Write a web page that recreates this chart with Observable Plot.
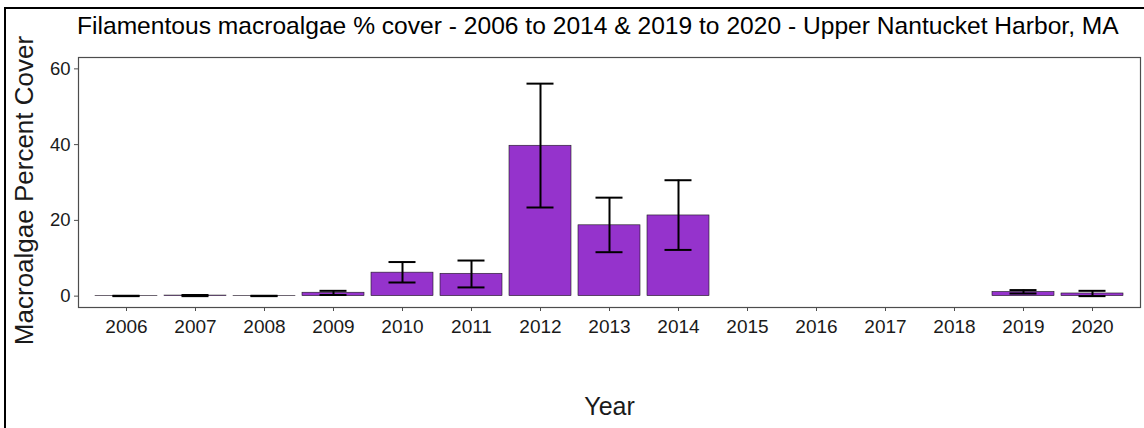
<!DOCTYPE html>
<html>
<head>
<meta charset="utf-8">
<script src="https://cdn.jsdelivr.net/npm/d3@7"></script>
<script src="https://cdn.jsdelivr.net/npm/@observablehq/plot@0.6"></script>
<style>
  html, body { margin: 0; padding: 0; background: #fff; }
  #wrap { position: relative; width: 1144px; height: 428px; overflow: hidden; font-family: "Liberation Sans", Arial, Helvetica, sans-serif; }
  #bl { position: absolute; left: 4px; top: 7px; width: 2px; height: 421px; background: #000; }
  #bt { position: absolute; left: 4px; top: 7px; width: 1140px; height: 2px; background: #000; }
  #title { position: absolute; left: 77px; top: 12px; font-size: 24.6px; color: #000; white-space: nowrap; }
  #chart { position: absolute; left: 0; top: 0; }
</style>
</head>
<body>
<div id="wrap">
  <div id="chart"></div>
  <div id="bl"></div>
  <div id="bt"></div>
  <div id="title">Filamentous macroalgae % cover - 2006 to 2014 &amp; 2019 to 2020 - Upper Nantucket Harbor, MA</div>
</div>
<script>
// Tick labels (x axis categories)
const allYears = ["2006","2007","2008","2009","2010","2011","2012","2013","2014","2015","2016","2017","2018","2019","2020"];
// Years with data
const years = ["2006","2007","2008","2009","2010","2011","2012","2013","2014","2019","2020"];
// Mean percent cover
const meanCover = [0.05, 0.15, 0.05, 0.9, 6.2, 5.9, 39.7, 18.7, 21.3, 1.1, 0.7];
// Error bar bounds
const lowerErr = [0.0, 0.0, 0.0, 0.3, 3.6, 2.3, 23.4, 11.6, 12.2, 0.7, 0.0];
const upperErr = [0.1, 0.3, 0.1, 1.4, 9.0, 9.4, 56.1, 26.0, 30.6, 1.6, 1.4];
const yTicks = [0, 20, 40, 60];

const data = years.map((y, i) => ({year: y, mean: meanCover[i], lo: lowerErr[i], hi: upperErr[i]}));

const chart = Plot.plot({
  width: 1144,
  height: 428,
  marginLeft: 78,
  marginRight: 4,
  marginTop: 57,
  marginBottom: 121,
  style: {background: "transparent", fontFamily: "'Liberation Sans', Arial, Helvetica, sans-serif", color: "#1a1a1a"},
  x: {type: "band", domain: allYears, paddingInner: 0.1, paddingOuter: 0.15},
  y: {domain: [-3, 63]},
  marks: [
    Plot.barY(data, {x: "year", y: "mean", fill: "#9533CC", stroke: "#1a1a1a", strokeWidth: 0.6}),
    Plot.ruleX(data, {x: "year", y1: "lo", y2: "hi", stroke: "#000", strokeWidth: 2}),
    Plot.tickY(data, {x: "year", y: "hi", stroke: "#000", strokeWidth: 2, insetLeft: 17.5, insetRight: 17.5}),
    Plot.tickY(data, {x: "year", y: "lo", stroke: "#000", strokeWidth: 2, insetLeft: 17.5, insetRight: 17.5}),
    Plot.frame({stroke: "#4d4d4d", strokeWidth: 1.2}),
    Plot.axisX({ticks: allYears, tickSize: 4, tickPadding: 8, fontSize: 19, stroke: "#4d4d4d",
      label: "Year", labelAnchor: "center", labelArrow: "none", labelOffset: 107}),
    Plot.axisY({ticks: yTicks, tickSize: 4, tickPadding: 4, fontSize: 18.5, stroke: "#4d4d4d",
      label: "Macroalgae Percent Cover", labelAnchor: "center", labelArrow: "none", labelOffset: 64})
  ]
});
// Enlarge axis title fonts
chart.querySelectorAll("g[aria-label='x-axis label'] text").forEach(t => t.setAttribute("font-size", "25px"));
chart.querySelectorAll("g[aria-label='y-axis label'] text").forEach(t => { t.setAttribute("font-size", "26px"); t.setAttribute("dx", "-8"); });
document.getElementById("chart").appendChild(chart);
</script>
</body>
</html>
